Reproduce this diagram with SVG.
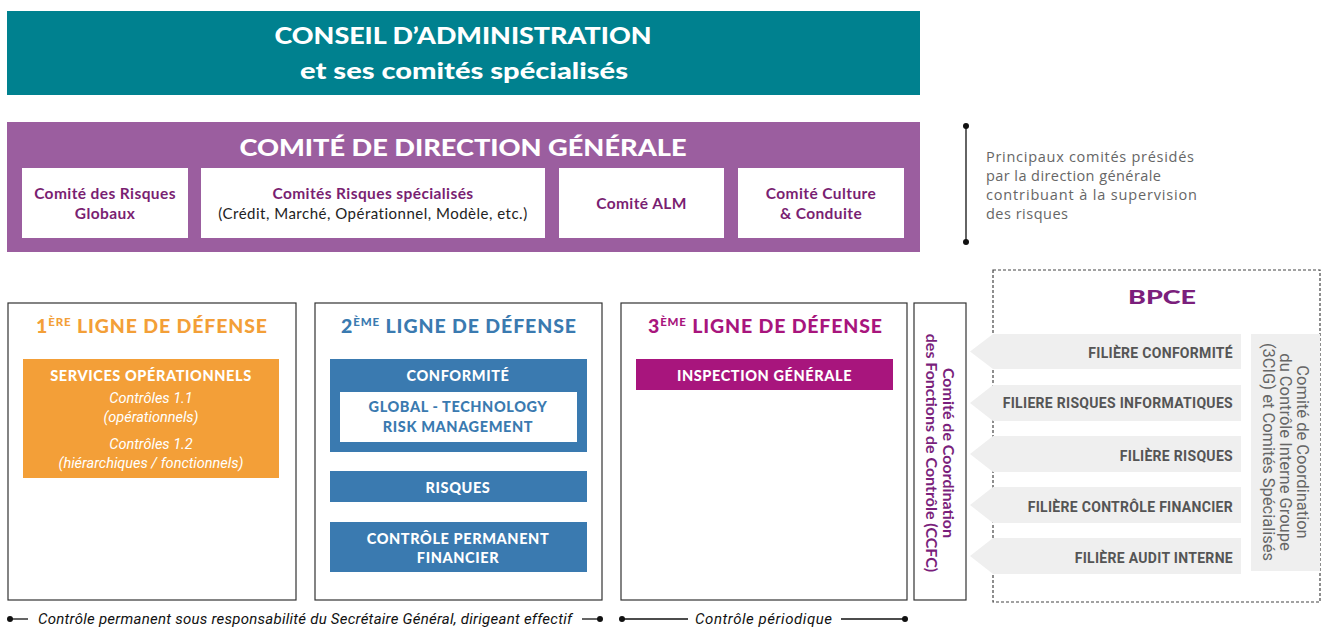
<svg xmlns="http://www.w3.org/2000/svg" width="1322" height="628" viewBox="0 0 1322 628">
<style>
.h{font-family:Lato,"Open Sans",sans-serif;font-weight:900;fill:#fff}
.pb{font-family:Lato,"Open Sans",sans-serif;font-weight:700;fill:#7A1F72;font-size:15.5px;letter-spacing:0.4px}
.pr{font-family:Lato,"Open Sans",sans-serif;font-weight:400;fill:#222;font-size:15px;letter-spacing:0.5px}
.note{font-family:"Open Sans",Lato,sans-serif;font-size:14.5px;fill:#666}
.frame{fill:#fff;stroke:#333;stroke-width:1.2}
.lt{font-family:Lato,"Open Sans",sans-serif;font-weight:900;font-size:19.5px}
.bw{font-family:Lato,"Open Sans",sans-serif;font-weight:900;font-size:14.5px;fill:#fff;letter-spacing:0.6px}
.bb{font-family:Lato,"Open Sans",sans-serif;font-weight:900;font-size:14.5px;fill:#3A7AB0;letter-spacing:0.6px}
.it{font-family:Roboto,"Liberation Sans",sans-serif;font-style:italic;font-size:14.5px;fill:#fff}
.arr{fill:#EFEFEF}
.fl{font-family:Roboto,"Liberation Sans",sans-serif;font-weight:700;font-size:14px;fill:#555;letter-spacing:0.3px}
.cg{font-family:Roboto,"Liberation Sans",sans-serif;font-size:16.5px;fill:#666}
.cc{font-family:Lato,"Open Sans",sans-serif;font-weight:700;font-size:16px;fill:#7A1F7C}
.bt{font-family:Roboto,"Liberation Sans",sans-serif;font-style:italic;font-size:15px;fill:#111}
.ln{stroke:#111;stroke-width:1.3}
</style>

<g id="conseil">
<rect x="7" y="11" width="913" height="84" fill="#00818F"/>
<text class="h" x="463" y="44" font-size="23.5" text-anchor="middle" textLength="377" lengthAdjust="spacingAndGlyphs">CONSEIL D’ADMINISTRATION</text>
<text class="h" x="464" y="79" font-size="23.5" text-anchor="middle" textLength="328" lengthAdjust="spacingAndGlyphs">et ses comités spécialisés</text>
</g>

<g id="comite-direction">
<rect x="7" y="122" width="913" height="130" fill="#9B5E9F"/>
<text class="h" x="463" y="156" font-size="23.5" text-anchor="middle" textLength="447" lengthAdjust="spacingAndGlyphs">COMITÉ DE DIRECTION GÉNÉRALE</text>
</g>
<g id="crg">
<rect x="22" y="168" width="166" height="70" fill="#fff"/>
<text class="pb" x="105" y="199" text-anchor="middle">Comité des Risques</text>
<text class="pb" x="105" y="219" text-anchor="middle">Globaux</text>
</g>
<g id="crs">
<rect x="201" y="168" width="344" height="70" fill="#fff"/>
<text class="pb" x="373" y="199" text-anchor="middle">Comités Risques spécialisés</text>
<text class="pr" x="373" y="219" text-anchor="middle">(Crédit, Marché, Opérationnel, Modèle, etc.)</text>
</g>
<g id="alm">
<rect x="559" y="168" width="165" height="70" fill="#fff"/>
<text class="pb" x="641.5" y="209" text-anchor="middle">Comité ALM</text>
</g>
<g id="culture">
<rect x="738" y="168" width="166" height="70" fill="#fff"/>
<text class="pb" x="821" y="199" text-anchor="middle">Comité Culture</text>
<text class="pb" x="821" y="219" text-anchor="middle">&amp; Conduite</text>
</g>

<g id="note">
<line class="ln" x1="966" y1="126" x2="966" y2="242"/>
<circle cx="966" cy="126" r="3" fill="#111"/>
<circle cx="966" cy="242" r="3" fill="#111"/>
<text class="note" x="986" y="162" textLength="208" lengthAdjust="spacing">Principaux comités présidés</text>
<text class="note" x="986" y="181" textLength="175" lengthAdjust="spacing">par la direction générale</text>
<text class="note" x="986" y="200" textLength="211" lengthAdjust="spacing">contribuant à la supervision</text>
<text class="note" x="986" y="219" textLength="82" lengthAdjust="spacing">des risques</text>
</g>

<g id="ligne1">
<rect class="frame" x="8" y="303" width="288" height="297"/>
<text class="lt" x="151.5" y="333" fill="#F39F38" text-anchor="middle" textLength="231" lengthAdjust="spacing">1<tspan font-size="11.5" dy="-7">ÈRE</tspan><tspan dy="7"> LIGNE DE DÉFENSE</tspan></text>
<rect x="23" y="359" width="256" height="119" fill="#F39F38"/>
<text class="bw" x="151" y="381" text-anchor="middle">SERVICES OPÉRATIONNELS</text>
<text class="it" x="151" y="403" text-anchor="middle">Contrôles 1.1</text>
<text class="it" x="151" y="422" text-anchor="middle">(opérationnels)</text>
<text class="it" x="151" y="449" text-anchor="middle">Contrôles 1.2</text>
<text class="it" x="151" y="468" text-anchor="middle">(hiérarchiques / fonctionnels)</text>
</g>

<g id="ligne2">
<rect class="frame" x="315" y="303" width="287" height="297"/>
<text class="lt" x="458.5" y="333" fill="#3A7AB0" text-anchor="middle" textLength="235" lengthAdjust="spacing">2<tspan font-size="11.5" dy="-7">ÈME</tspan><tspan dy="7"> LIGNE DE DÉFENSE</tspan></text>
<rect x="330" y="359" width="257" height="93" fill="#3A7AB0"/>
<text class="bw" x="458" y="381" text-anchor="middle">CONFORMITÉ</text>
<rect x="340" y="392" width="237" height="50" fill="#fff"/>
<text class="bb" x="458" y="412" text-anchor="middle">GLOBAL - TECHNOLOGY</text>
<text class="bb" x="458" y="432" text-anchor="middle">RISK MANAGEMENT</text>
<rect x="330" y="471" width="257" height="31" fill="#3A7AB0"/>
<text class="bw" x="458" y="493" text-anchor="middle">RISQUES</text>
<rect x="330" y="522" width="257" height="50" fill="#3A7AB0"/>
<text class="bw" x="458" y="544" text-anchor="middle">CONTRÔLE PERMANENT</text>
<text class="bw" x="458" y="563" text-anchor="middle">FINANCIER</text>
</g>

<g id="ligne3">
<rect class="frame" x="621" y="303" width="286" height="297"/>
<text class="lt" x="765" y="333" fill="#A8157D" text-anchor="middle" textLength="234" lengthAdjust="spacing">3<tspan font-size="11.5" dy="-7">ÈME</tspan><tspan dy="7"> LIGNE DE DÉFENSE</tspan></text>
<rect x="636" y="359" width="257" height="31" fill="#A8157D"/>
<text class="bw" x="764.5" y="381" text-anchor="middle">INSPECTION GÉNÉRALE</text>
</g>

<g id="ccfc">
<rect class="frame" x="914" y="303" width="52" height="297"/>
<text class="cc" transform="translate(943,453) rotate(90)" text-anchor="middle">Comité de Coordination</text>
<text class="cc" transform="translate(926,453) rotate(90)" text-anchor="middle">des Fonctions de Contrôle (CCFC)</text>
</g>

<g id="bpce">
<rect x="993" y="270" width="327" height="332" fill="none" stroke="#444" stroke-width="1.2" stroke-dasharray="3,2"/>
<text x="1162" y="304" font-family="Lato,'Open Sans',sans-serif" font-weight="900" font-size="19.5" fill="#7B1F7C" text-anchor="middle" textLength="68" lengthAdjust="spacingAndGlyphs">BPCE</text>
</g>

<g id="connectors">
<polygon class="arr" points="993,334 1241,334 1241,369 993,369 970,351.5"/>
<polygon class="arr" points="993,385 1241,385 1241,421 993,421 970,403"/>
<polygon class="arr" points="993,436 1241,436 1241,472 993,472 970,454"/>
<polygon class="arr" points="993,487 1241,487 1241,523 993,523 970,505"/>
<polygon class="arr" points="993,538 1241,538 1241,574 993,574 970,556"/>
<text class="fl" x="1233" y="358" text-anchor="end">FILIÈRE CONFORMITÉ</text>
<text class="fl" x="1233" y="408" text-anchor="end">FILIERE RISQUES INFORMATIQUES</text>
<text class="fl" x="1233" y="461" text-anchor="end">FILIÈRE RISQUES</text>
<text class="fl" x="1233" y="512" text-anchor="end">FILIÈRE CONTRÔLE FINANCIER</text>
<text class="fl" x="1233" y="563" text-anchor="end">FILIÈRE AUDIT INTERNE</text>
</g>

<g id="cig">
<rect x="1251" y="334" width="69" height="237" fill="#EFEFEF"/>
<text class="cg" transform="translate(1297,452) rotate(90)" text-anchor="middle">Comité de Coordination</text>
<text class="cg" transform="translate(1280,452) rotate(90)" text-anchor="middle">du Contrôle Interne Groupe</text>
<text class="cg" transform="translate(1263,452) rotate(90)" text-anchor="middle">(3CIG) et Comités Spécialisés</text>
</g>

<g id="legend">
<circle cx="10" cy="619" r="3" fill="#111"/>
<line class="ln" x1="10" y1="619" x2="28" y2="619"/>
<text class="bt" x="38" y="624" textLength="534" lengthAdjust="spacing">Contrôle permanent sous responsabilité du Secrétaire Général, dirigeant effectif</text>
<line class="ln" x1="582" y1="619" x2="600" y2="619"/>
<circle cx="600" cy="619" r="3" fill="#111"/>
<circle cx="622" cy="619" r="3" fill="#111"/>
<line class="ln" x1="622" y1="619" x2="688" y2="619"/>
<text class="bt" x="695" y="624" textLength="137" lengthAdjust="spacing">Contrôle périodique</text>
<line class="ln" x1="841" y1="619" x2="905" y2="619"/>
<circle cx="905" cy="619" r="3" fill="#111"/>
</g>
</svg>
